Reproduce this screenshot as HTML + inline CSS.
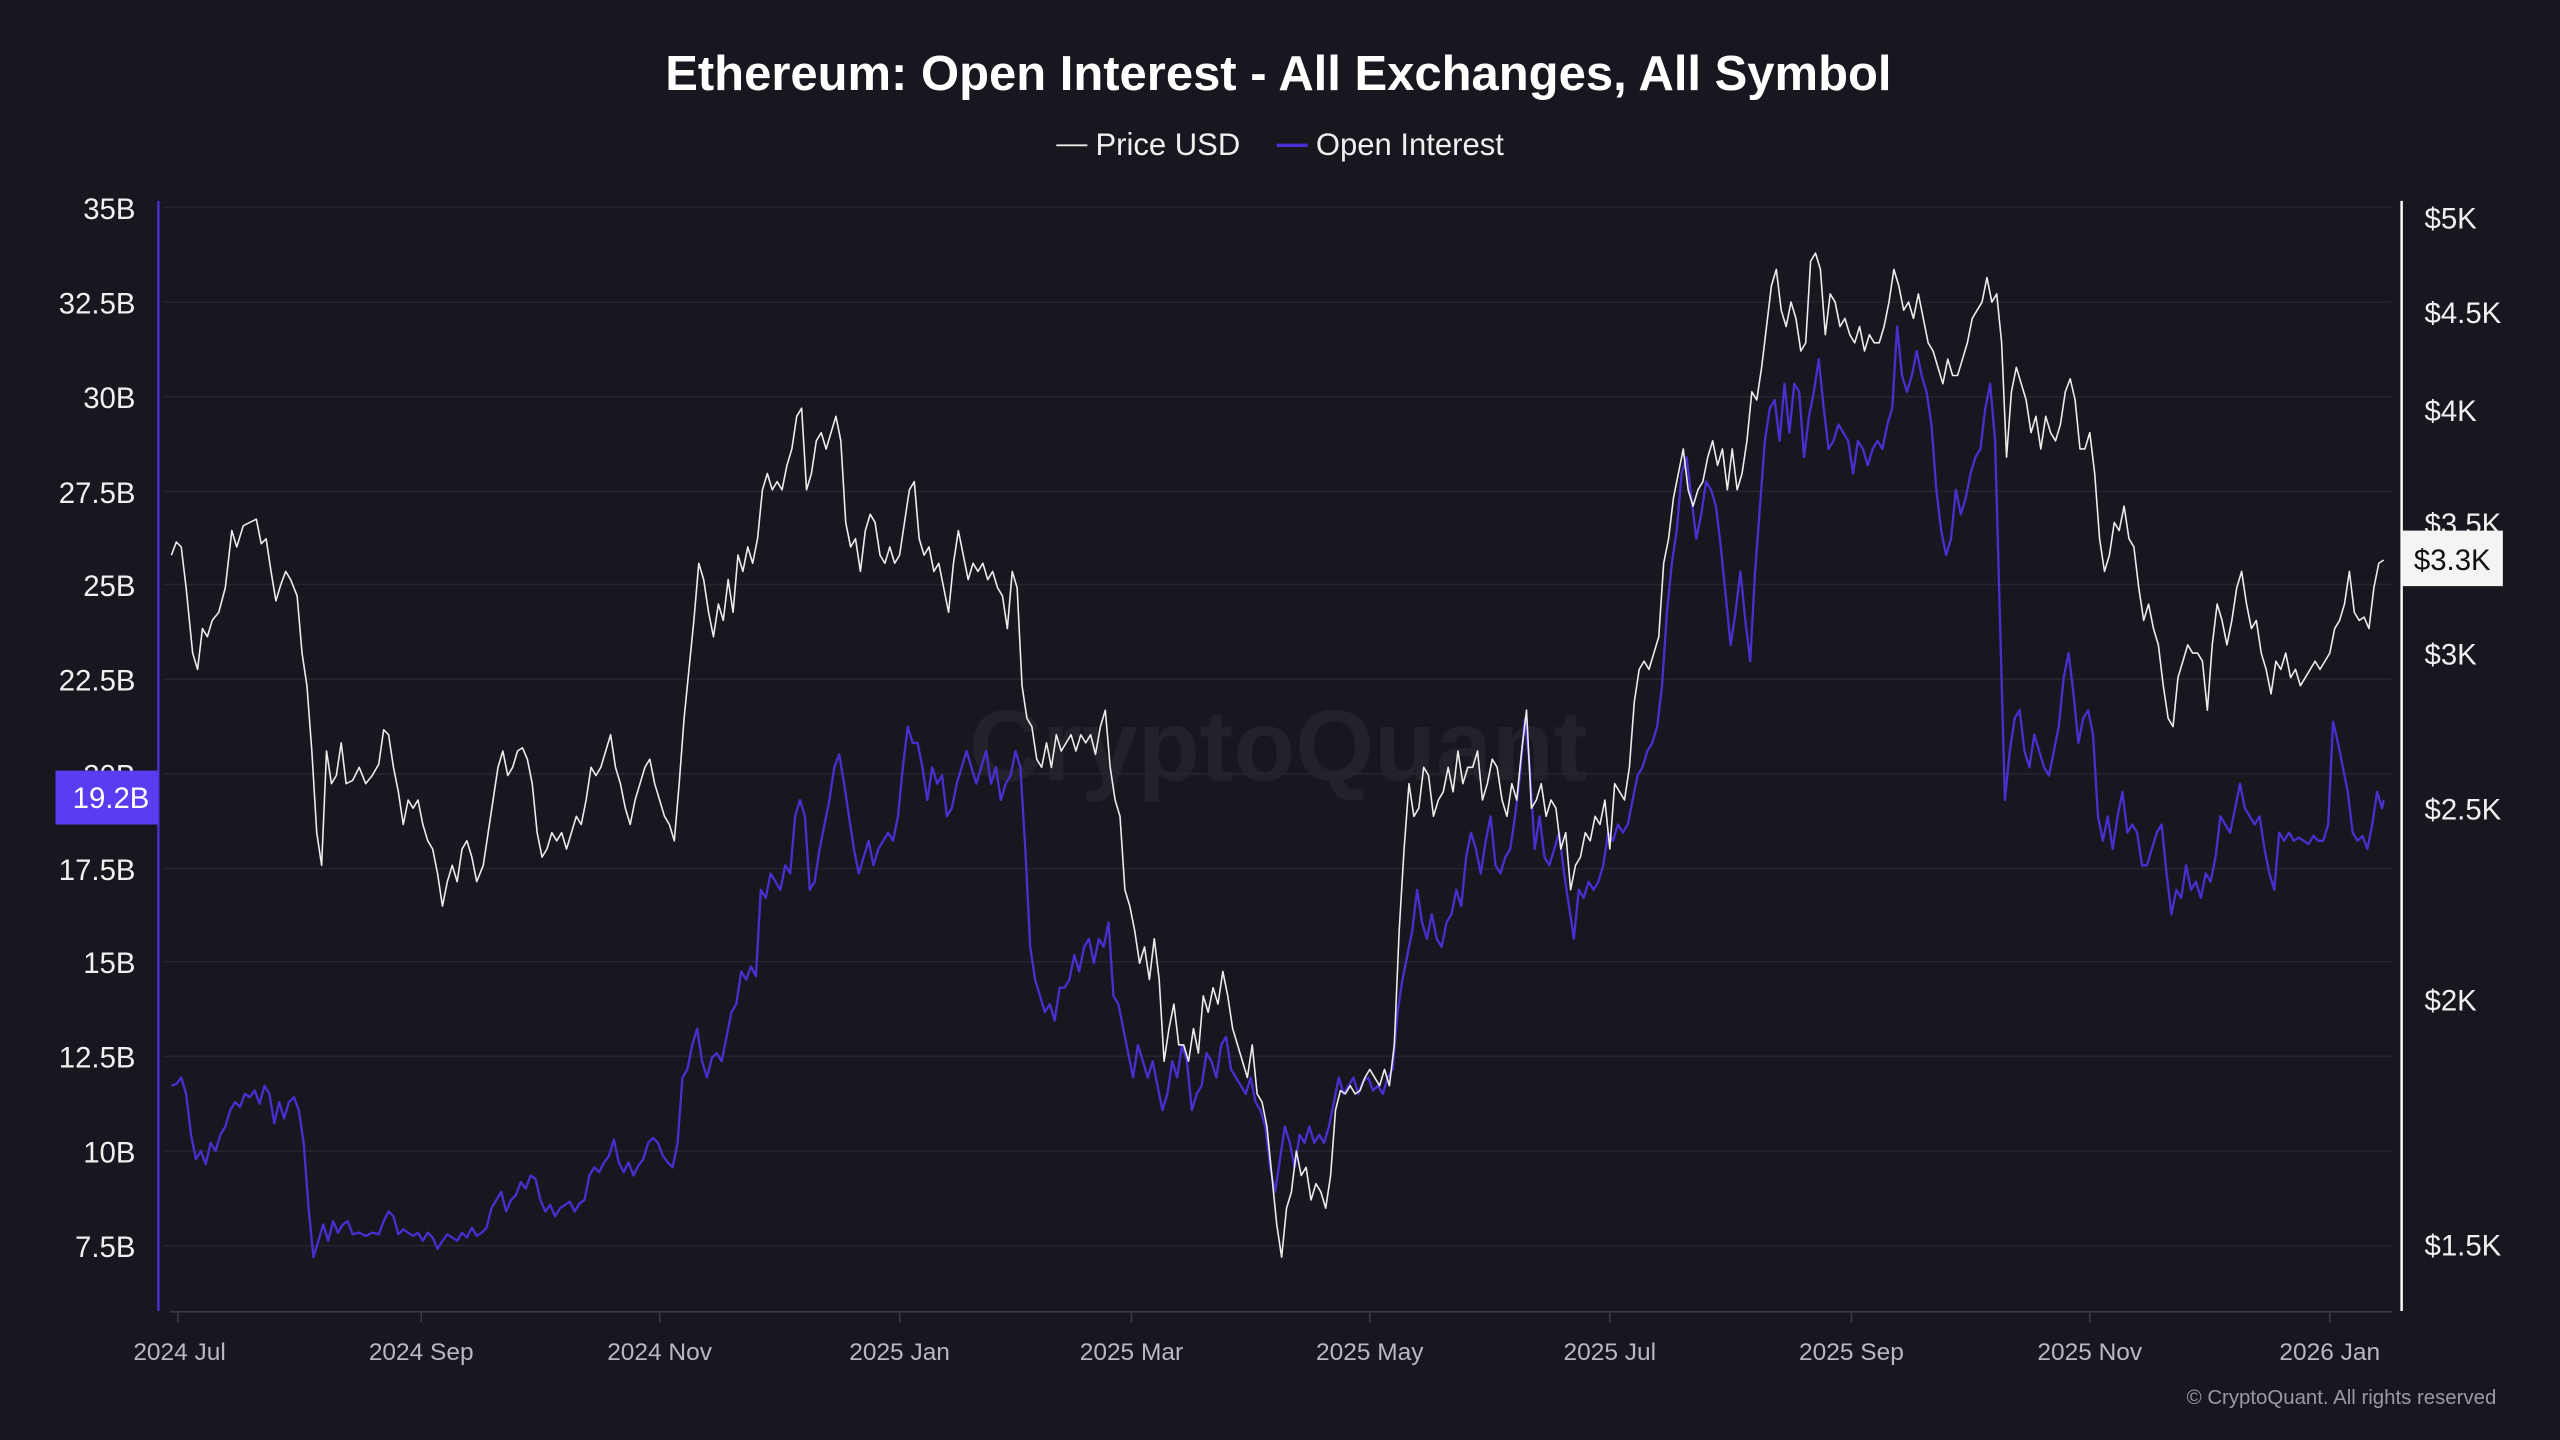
<!DOCTYPE html>
<html><head><meta charset="utf-8"><style>
html,body{margin:0;padding:0;background:#17171f;width:2560px;height:1440px;overflow:hidden}
svg{display:block}
text{font-family:"Liberation Sans",sans-serif}
</style></head><body>
<svg width="2560" height="1440" viewBox="0 0 1568 882" preserveAspectRatio="none" xmlns="http://www.w3.org/2000/svg">
<rect width="1568" height="882" fill="#17171f"/>
<text x="783" y="55" text-anchor="middle" fill="#ffffff" font-size="30" font-weight="bold">Ethereum: Open Interest - All Exchanges, All Symbol</text>
<line x1="647" y1="89" x2="666" y2="89" stroke="#e8e8e8" stroke-width="1.2"/>
<text x="671" y="95" fill="#f0f0f0" font-size="19">Price USD</text>
<line x1="782" y1="89" x2="801" y2="89" stroke="#4a2fd0" stroke-width="2"/>
<text x="806" y="95" fill="#f0f0f0" font-size="19">Open Interest</text>
<text x="783" y="478" text-anchor="middle" fill="#22222b" font-size="62" font-weight="bold">CryptoQuant</text>
<g stroke="#25252f" stroke-width="1">
<line x1="100" y1="127" x2="1465" y2="127"/><line x1="100" y1="185" x2="1465" y2="185"/><line x1="100" y1="243" x2="1465" y2="243"/><line x1="100" y1="301" x2="1465" y2="301"/><line x1="100" y1="358" x2="1465" y2="358"/><line x1="100" y1="416" x2="1465" y2="416"/><line x1="100" y1="474" x2="1465" y2="474"/><line x1="100" y1="532" x2="1465" y2="532"/><line x1="100" y1="589" x2="1465" y2="589"/><line x1="100" y1="647" x2="1465" y2="647"/><line x1="100" y1="705" x2="1465" y2="705"/><line x1="100" y1="763" x2="1465" y2="763"/>
</g>
<line x1="97" y1="123" x2="97" y2="803" stroke="#4a2fd0" stroke-width="1.5"/>
<line x1="1471" y1="123" x2="1471" y2="803" stroke="#ffffff" stroke-width="1.5"/>
<line x1="104" y1="803.5" x2="1465" y2="803.5" stroke="#3a3a44" stroke-width="1"/>
<g stroke="#3a3a44" stroke-width="1">
<line x1="109" y1="804" x2="109" y2="810"/><line x1="258" y1="804" x2="258" y2="810"/><line x1="404" y1="804" x2="404" y2="810"/><line x1="551" y1="804" x2="551" y2="810"/><line x1="693" y1="804" x2="693" y2="810"/><line x1="839" y1="804" x2="839" y2="810"/><line x1="986" y1="804" x2="986" y2="810"/><line x1="1134" y1="804" x2="1134" y2="810"/><line x1="1280" y1="804" x2="1280" y2="810"/><line x1="1427" y1="804" x2="1427" y2="810"/>
</g>
<g fill="#f0f0f0" font-size="18" text-anchor="end">
<text x="83" y="134">35B</text><text x="83" y="192">32.5B</text><text x="83" y="250">30B</text><text x="83" y="308">27.5B</text><text x="83" y="365">25B</text><text x="83" y="423">22.5B</text><text x="83" y="481">20B</text><text x="83" y="539">17.5B</text><text x="83" y="596">15B</text><text x="83" y="654">12.5B</text><text x="83" y="712">10B</text><text x="83" y="770">7.5B</text>
</g>
<g fill="#f0f0f0" font-size="18">
<text x="1485" y="140">$5K</text><text x="1485" y="198">$4.5K</text><text x="1485" y="258">$4K</text><text x="1485" y="327">$3.5K</text><text x="1485" y="407">$3K</text><text x="1485" y="502">$2.5K</text><text x="1485" y="619">$2K</text><text x="1485" y="769">$1.5K</text>
</g>
<g fill="#b8b8c0" font-size="15" text-anchor="middle">
<text x="110" y="833">2024 Jul</text><text x="258" y="833">2024 Sep</text><text x="404" y="833">2024 Nov</text><text x="551" y="833">2025 Jan</text><text x="693" y="833">2025 Mar</text><text x="839" y="833">2025 May</text><text x="986" y="833">2025 Jul</text><text x="1134" y="833">2025 Sep</text><text x="1280" y="833">2025 Nov</text><text x="1427" y="833">2026 Jan</text>
</g>
<text x="1529" y="860" text-anchor="end" fill="#9a9aa4" font-size="12.5">© CryptoQuant. All rights reserved</text>
<polyline fill="none" stroke="#4a2fd0" stroke-width="2.3" vector-effect="non-scaling-stroke" stroke-linejoin="round" points="105,665 108,664 111,660 114,670 117,695 120,710 123,705 126,713 129,700 132,705 135,695 138,690 141,680 144,675 147,678 150,670 153,672 156,668 159,676 162,665 165,670 168,688 171,675 174,685 177,675 180,672 183,680 186,700 189,740 192,770 195,760 198,750 201,760 204,748 207,755 210,750 213,748 216,756 220,755 224,757 228,755 232,756 235,748 238,742 241,745 244,756 247,753 250,755 253,757 256,755 259,760 262,755 265,758 268,765 271,760 274,756 277,758 280,760 283,755 286,758 289,752 292,757 295,755 298,752 301,740 304,735 307,730 310,742 313,735 316,732 319,724 322,728 325,720 328,722 331,735 334,742 337,738 340,745 343,740 346,738 349,736 352,742 355,737 358,735 361,720 364,715 367,718 370,712 373,708 376,698 379,712 382,718 385,712 388,720 391,714 394,710 397,700 400,697 403,700 406,708 409,712 412,715 415,700 418,660 421,655 424,640 427,630 430,650 433,660 436,648 439,645 442,650 445,635 448,620 451,615 454,595 457,600 460,592 463,598 466,545 469,550 472,535 475,540 478,545 481,530 484,535 487,500 490,490 493,500 496,545 499,540 502,520 505,505 508,490 511,470 514,462 517,480 520,500 523,520 526,535 529,525 532,515 535,530 538,520 541,515 544,510 547,515 550,500 553,470 556,445 559,455 562,455 565,470 568,490 571,470 574,480 577,475 580,500 583,495 586,480 589,470 592,460 595,470 598,480 601,470 604,460 607,480 610,470 613,490 616,480 619,475 622,460 625,470 628,520 631,580 634,600 637,610 640,620 643,615 646,625 649,605 652,605 655,600 658,585 661,595 664,580 667,575 670,590 673,575 676,580 679,565 682,610 685,615 688,630 691,645 694,660 697,640 700,650 703,660 706,650 709,665 712,680 715,670 718,650 721,660 724,640 727,650 730,680 733,670 736,665 739,645 742,650 745,660 748,640 751,635 754,655 757,660 760,665 763,670 766,660 769,675 772,680 775,690 778,715 781,730 784,710 787,690 790,700 793,715 796,695 799,700 802,690 805,700 808,695 811,700 814,690 817,675 820,660 823,670 826,665 829,660 832,670 835,662 838,660 841,668 844,665 847,670 850,660 853,655 856,620 859,600 862,585 865,570 868,545 871,565 874,575 877,560 880,575 883,580 886,565 889,560 892,545 895,555 898,525 901,510 904,520 907,535 910,515 913,500 916,530 919,535 922,525 925,520 928,500 931,475 934,440 937,470 940,520 943,500 946,525 949,530 952,520 955,510 958,535 961,555 964,575 967,545 970,550 973,540 976,545 979,540 982,530 985,510 988,515 991,505 994,510 997,505 1000,490 1003,475 1006,470 1009,460 1012,455 1015,445 1018,420 1021,375 1024,345 1027,325 1030,290 1033,280 1036,305 1039,330 1042,315 1045,295 1048,300 1051,310 1054,335 1057,365 1060,395 1063,375 1066,350 1069,380 1072,405 1075,350 1078,310 1081,270 1084,250 1087,245 1090,270 1093,235 1096,265 1099,235 1102,240 1105,280 1108,255 1111,240 1114,220 1117,250 1120,275 1123,270 1126,260 1129,265 1132,270 1135,290 1138,270 1141,275 1144,285 1147,275 1150,270 1153,275 1156,260 1159,250 1162,200 1165,230 1168,240 1171,230 1174,215 1177,230 1180,240 1183,260 1186,300 1189,325 1192,340 1195,330 1198,300 1201,315 1204,305 1207,290 1210,280 1213,275 1216,250 1219,235 1222,270 1225,380 1228,490 1231,460 1234,440 1237,435 1240,460 1243,470 1246,450 1249,460 1252,470 1255,475 1258,460 1261,445 1264,415 1267,400 1270,425 1273,455 1276,440 1279,435 1282,450 1285,500 1288,515 1291,500 1294,520 1297,500 1300,485 1303,510 1306,505 1309,510 1312,530 1315,530 1318,520 1321,510 1324,505 1327,535 1330,560 1333,545 1336,550 1339,530 1342,545 1345,540 1348,550 1351,535 1354,540 1357,525 1360,500 1363,505 1366,510 1369,495 1372,480 1375,495 1378,500 1381,505 1384,500 1387,520 1390,535 1393,545 1396,510 1399,515 1402,510 1405,515 1408,513 1411,515 1414,517 1417,512 1420,515 1423,515 1426,505 1429,442 1432,455 1435,470 1438,485 1441,510 1444,515 1447,512 1450,520 1453,505 1456,485 1459,495 1460,490"/>
<polyline fill="none" stroke="#ececec" stroke-width="1.6" vector-effect="non-scaling-stroke" stroke-linejoin="round" points="105,340 108,332 111,335 114,360 118,400 121,410 124,385 127,390 130,380 134,375 138,360 142,325 145,335 149,322 153,320 157,318 160,333 163,330 166,350 169,368 172,358 175,350 178,355 182,365 185,400 188,420 191,460 194,510 197,530 200,460 203,480 206,475 209,455 212,480 216,478 220,470 224,480 228,475 232,468 235,447 238,450 241,470 244,485 247,505 250,490 253,495 256,490 259,505 262,515 265,520 268,535 271,555 274,540 277,530 280,540 283,520 286,515 289,525 292,540 296,530 299,510 302,490 305,470 308,460 311,475 314,470 317,460 320,458 323,465 326,480 329,510 332,525 335,520 338,510 341,515 344,510 347,520 350,510 353,500 356,505 359,490 362,470 365,475 368,470 371,460 374,450 377,470 380,480 383,495 386,505 389,490 392,480 395,470 398,465 401,480 404,490 407,500 410,505 413,515 416,480 419,440 422,410 425,380 428,345 431,355 434,375 437,390 440,370 443,380 446,355 449,375 452,340 455,350 458,335 461,345 464,330 467,300 470,290 473,300 476,295 479,300 482,285 485,275 488,255 491,250 494,300 497,290 500,270 503,265 506,275 509,265 512,255 515,270 518,320 521,335 524,330 527,350 530,325 533,315 536,320 539,340 542,345 545,335 548,345 551,340 554,320 557,300 560,295 563,330 566,340 569,335 572,350 575,345 578,360 581,375 584,345 587,325 590,340 593,355 596,345 599,350 602,345 605,355 608,350 611,360 614,365 617,385 620,350 623,360 626,420 629,440 632,445 635,465 638,470 641,455 644,470 647,450 650,460 653,455 656,450 659,460 662,450 665,455 668,450 671,462 674,445 677,435 680,470 683,490 686,500 689,545 692,555 695,570 698,590 701,580 704,600 707,575 710,600 713,650 716,630 719,615 722,640 725,640 728,650 731,630 734,645 737,610 740,620 743,605 746,615 749,595 752,610 755,630 758,640 761,650 764,660 767,640 770,670 773,675 776,690 779,720 782,750 785,770 788,740 791,730 794,705 797,720 800,715 803,735 806,725 809,730 812,740 815,720 818,680 821,668 824,670 827,665 830,670 833,668 836,660 839,655 842,660 845,665 848,655 851,665 854,640 857,570 860,520 863,480 866,500 869,495 872,470 875,475 878,500 881,490 884,485 887,470 890,485 893,460 896,480 899,470 902,470 905,460 908,490 911,480 914,465 917,470 920,490 923,500 926,480 929,490 932,460 935,435 938,495 941,490 944,480 947,500 950,490 953,495 956,520 959,510 962,545 965,530 968,525 971,510 974,515 977,500 980,505 983,490 986,520 989,480 992,485 995,490 998,470 1001,430 1004,410 1007,405 1010,410 1013,400 1016,390 1019,345 1022,330 1025,305 1028,290 1031,275 1034,300 1037,310 1040,300 1043,295 1046,280 1049,270 1052,285 1055,275 1058,300 1061,275 1064,300 1067,290 1070,270 1073,240 1076,245 1079,225 1082,200 1085,175 1088,165 1091,190 1094,200 1097,185 1100,195 1103,215 1106,210 1109,160 1112,155 1115,165 1118,205 1121,180 1124,185 1127,200 1130,195 1133,205 1136,210 1139,200 1142,215 1145,205 1148,210 1151,210 1154,200 1157,185 1160,165 1163,175 1166,190 1169,185 1172,195 1175,180 1178,195 1181,210 1184,215 1187,225 1190,235 1193,220 1196,230 1199,230 1202,220 1205,210 1208,195 1211,190 1214,185 1217,170 1220,185 1223,180 1226,210 1229,280 1232,240 1235,225 1238,235 1241,245 1244,265 1247,255 1250,275 1253,255 1256,265 1259,270 1262,260 1265,240 1268,232 1271,245 1274,275 1277,275 1280,265 1283,290 1286,330 1289,350 1292,340 1295,320 1298,325 1301,310 1304,330 1307,335 1310,360 1313,380 1316,370 1319,385 1322,395 1325,420 1328,440 1331,445 1334,415 1337,405 1340,395 1343,400 1346,400 1349,405 1352,435 1355,395 1358,370 1361,380 1364,395 1367,380 1370,360 1373,350 1376,370 1379,385 1382,380 1385,400 1388,410 1391,425 1394,405 1397,410 1400,400 1403,415 1406,410 1409,420 1412,415 1415,410 1418,405 1421,410 1424,405 1427,400 1430,385 1433,380 1436,370 1439,350 1442,375 1445,380 1448,378 1451,385 1454,360 1457,345 1460,343"/>
<rect x="34" y="472" width="63" height="33" fill="#5a3df0"/>
<text x="68" y="495" text-anchor="middle" fill="#ffffff" font-size="18">19.2B</text>
<rect x="1471" y="325" width="62" height="34" fill="#f4f4f4"/>
<text x="1502" y="349" text-anchor="middle" fill="#111111" font-size="18">$3.3K</text>
</svg>
</body></html>
